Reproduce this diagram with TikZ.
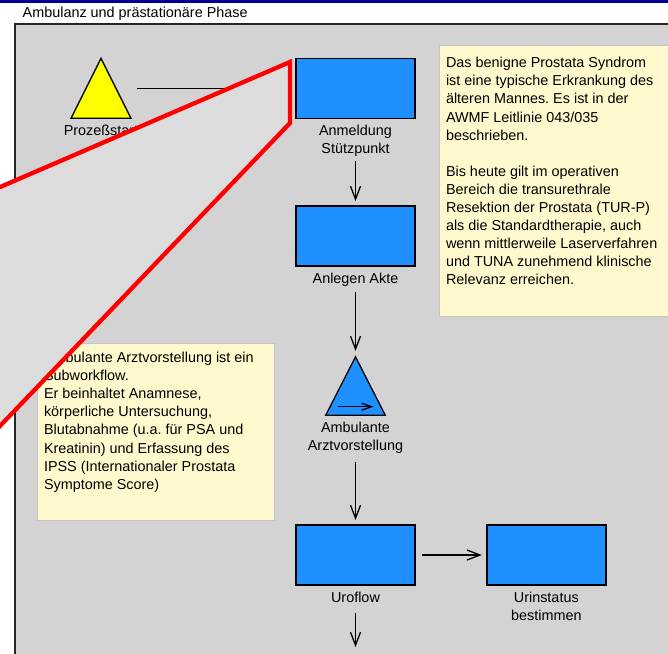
\documentclass[tikz,border=0pt]{standalone}
\usepackage{fontspec}
\setmainfont{Liberation Sans}
\usetikzlibrary{arrows.meta,calc}
\definecolor{panelgray}{HTML}{D3D3D3}
\definecolor{lensgray}{HTML}{DCDCDC}
\definecolor{taskblue}{HTML}{1E90FF}
\definecolor{notefill}{HTML}{FFF9CD}
\definecolor{noteedge}{HTML}{C4C4C4}
\definecolor{barnavy}{HTML}{00008C}
\definecolor{startyellow}{HTML}{FFFF00}
\frenchspacing

\begin{document}
\begin{tikzpicture}[x=1pt,y=-1pt,
  every node/.style={font=\fontsize{14.4}{18.1}\selectfont, inner sep=0pt, outer sep=0pt},
  taskbox/.style={draw=black, line width=1.4pt, fill=taskblue,
    minimum width=119pt, minimum height=60pt},
  % multi-line labels are placed by the baseline of their last line
  tasklabel/.style={align=center, anchor=base},
  trianglebox/.style={minimum width=59.5pt, minimum height=59pt},
  trianglepath/.style={draw=black, line width=1.3pt, line join=miter},
  notebox/.style={draw=noteedge, line width=0.9pt, fill=notefill, anchor=north west},
  notetext/.style={align=left, anchor=base west},
  flow/.style={-{Straight Barb[length=13pt,width=10pt]}, line width=1.3pt},
  lens/.style={fill=lensgray, draw=red, line width=4.3pt, line join=miter},
]
\useasboundingbox (0,0) rectangle (668,653);
\clip (0,0) rectangle (668,653);

% page header
\fill[white] (0,0) rectangle (668,653);
\fill[barnavy] (0,0) rectangle (668,3.3);
\node[anchor=base west] (title) at (22.7,17) {Ambulanz und prästationäre Phase};

% process panel
\draw[fill=panelgray, draw=black!85, line width=1.3pt] (15,24) rectangle (720,720);

% annotations
\node[notebox, minimum width=280pt, minimum height=271pt] (noteA) at (439,45) {};
\node[notetext] (noteAtext) at (446,284.9) {Das benigne Prostata Syndrom\\
ist eine typische Erkrankung des\\
älteren Mannes. Es ist in der\\
AWMF Leitlinie 043/035\\
beschrieben.\\[18.1pt]
Bis heute gilt im operativen\\
Bereich die transurethrale\\
Resektion der Prostata (TUR-P)\\
als die Standardtherapie, auch\\
wenn mittlerweile Laserverfahren\\
und TUNA zunehmend klinische\\
Relevanz erreichen.};

\node[notebox, minimum width=236.7pt, minimum height=176.7pt] (noteB) at (37.3,343.3) {};
\node[notetext] (noteBtext) at (44,489.2) {Ambulante Arztvorstellung ist ein\\
Subworkflow.\\
Er beinhaltet Anamnese,\\
körperliche Untersuchung,\\
Blutabnahme (u.a. für PSA und\\
Kreatinin) und Erfassung des\\
IPSS (Internationaler Prostata\\
Symptome Score)};

% start event
\node[trianglebox, minimum height=60pt, minimum width=60pt] (start) at (101,88.3) {};
\draw[trianglepath, fill=startyellow] (start.north) -- (start.south east) -- (start.south west) -- cycle;
\node[tasklabel] (startlabel) at (101,135.5) {Prozeßstart};

% tasks
\node[taskbox] (anmeld) at (355.5,88.3) {};
\node[tasklabel] (anmeldlabel) at (355.5,153.8) {Anmeldung\\Stützpunkt};

\node[taskbox] (anlegen) at (355.5,236) {};
\node[tasklabel] (anlegenlabel) at (355.5,283.5) {Anlegen Akte};

\node[trianglebox, minimum height=58.3pt] (arzt) at (355.5,386) {};
\draw[trianglepath, fill=taskblue] (arzt.north) -- (arzt.south east) -- (arzt.south west) -- cycle;
\draw[-{Straight Barb[length=10pt,width=7pt]}, line width=1.3pt]
  ($(arzt.center)+(-17.5,20.7)$) -- ($(arzt.center)+(18,20.7)$);
\node[tasklabel] (arztlabel) at (355.5,450.6) {Ambulante\\Arztvorstellung};

\node[taskbox] (uroflow) at (355.5,555) {};
\node[tasklabel] (uroflowlabel) at (355.5,602.5) {Uroflow};

\node[taskbox] (urin) at (546.3,555) {};
\node[tasklabel] (urinlabel) at (546.3,620.6) {Urinstatus\\bestimmen};

\coordinate (nexttask) at (355.5,652);

% sequence flow
\draw[flow, shorten <=6pt, shorten >=5pt] (start.east) -- (anmeld.west);
\draw[flow, shorten <=4.5pt, shorten >=5pt] (anmeldlabel.south) -- (anlegen.north);
\draw[flow, shorten <=5.5pt, shorten >=6pt] (anlegenlabel.south) -- (arzt.north);
\draw[flow, shorten <=8pt, shorten >=5pt] (arztlabel.south) -- (uroflow.north);
\draw[flow, shorten <=10.5pt, shorten >=5pt] (uroflowlabel.south) -- (nexttask);
\draw[flow, shorten <=6.7pt, shorten >=5pt] (uroflow.east) -- (urin.west);

% magnifier wedge
\draw[lens] (-30,200) -- (290,62) -- (290,123) -- (-30,457.3) -- cycle;
\end{tikzpicture}
\end{document}
